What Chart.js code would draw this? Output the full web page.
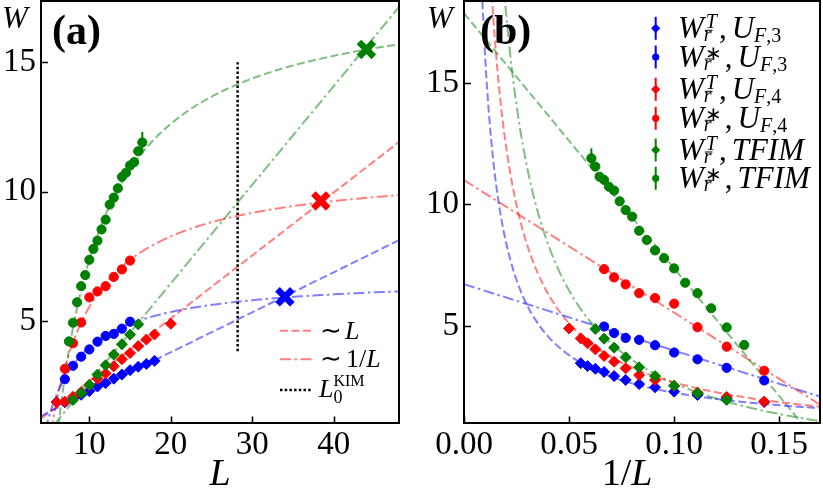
<!DOCTYPE html>
<html>
<head>
<meta charset="utf-8">
<script src="https://cdn.jsdelivr.net/npm/chart.js@4.4.1/dist/chart.umd.min.js"></script>
<style>
  html, body { margin: 0; padding: 0; background: #fff; }
  #wrap { position: relative; width: 823px; height: 494px; overflow: hidden; }
  #chartA { position: absolute; left: 0; top: 0; }
  #chartB { position: absolute; left: 411px; top: 0; }
</style>
</head>
<body>
<div id="wrap">
  <canvas id="chartA" width="411" height="494"></canvas>
  <canvas id="chartB" width="412" height="494"></canvas>
</div>
<script>
// ---- data ----
// W^T_rbar, U_F,3 (blue diamonds)
const L_uf3T = [6, 7, 8, 9, 10, 11, 12, 13, 14, 15, 16, 17, 18];
const W_uf3T = [1.88, 1.87, 2.00, 2.16, 2.30, 2.48, 2.61, 2.78, 2.94, 3.11, 3.24, 3.35, 3.47];
// W^*_rbar, U_F,3 (blue circles)
const L_uf3S = [7, 8, 9, 10, 11, 12, 13, 14, 15];
const W_uf3S = [2.76, 3.28, 3.63, 3.91, 4.21, 4.43, 4.51, 4.71, 4.98];
// W^T_rbar, U_F,4 (red diamonds)
const L_uf4T = [6, 7, 8, 9, 10, 11, 12, 13, 14, 15, 16, 17, 18, 20];
const W_uf4T = [1.87, 1.89, 2.08, 2.26, 2.54, 2.78, 2.98, 3.26, 3.53, 3.77, 4.04, 4.29, 4.49, 4.90];
// W^*_rbar, U_F,4 (red circles)
const L_uf4S = [7, 8, 9, 10, 11, 12, 13, 14, 15];
const W_uf4S = [3.16, 4.15, 4.95, 5.92, 6.15, 6.35, 6.71, 7.00, 7.34];
// W^T_rbar, TFIM (green diamonds)
const L_tfT = [8, 9, 10, 11, 12, 13, 14, 15, 16];
const W_tfT = [1.96, 2.23, 2.54, 2.94, 3.30, 3.71, 4.11, 4.48, 4.88];
// W^*_rbar, TFIM (green circles)
const L_tfS = [7.5, 8, 8.5, 9, 9.5, 10, 10.5, 11, 11.5, 12, 12.5, 13, 13.5, 14, 14.5, 15, 15.5, 16, 16.5];
const W_tfS = [4.22, 4.94, 5.73, 6.35, 6.78, 7.37, 7.79, 8.11, 8.54, 8.92, 9.50, 9.77, 10.13, 10.57, 10.73, 11.01, 11.14, 11.56, 11.90];
const E_tfS = [0, 0, 0, 0, 0, 0, 0, 0, 0, 0, 0, 0, 0, 0, 0, 0, 0, 0, 0.41];

// extrapolated crossings (blue, red, green)
const crossL = [34.0, 38.4, 44.0];
const crossW = [5.94, 9.64, 15.49];

// fit coefficients (blue, red, green): W = a + b*L  and  W = c + d/L
const fitLinA = [0.71, 0.25, -1.16];
const fitLinB = [0.1545, 0.243, 0.381];
const fitInvA = [6.72, 11.0, 17.87];
const fitInvB = [-27.3, -54.5, -105.0];

// L_0^KIM marker line
const L0kim = 28.2;
const L0kimW = [3.84, 15.0];

// axes
const xTicksA = [10, 20, 30, 40];
const xTicksB = [0, 0.05, 0.10, 0.15];
const yTicks = [5, 10, 15];
const minLPanelB = 7;

// ---- styling ----
const blueC = '#0000ff', redC = '#ff0000', greenC = '#008000';
const fitColors = ['rgba(0,0,255,0.5)', 'rgba(255,0,0,0.5)', 'rgba(0,128,0,0.5)'];
const DASH = [8, 3.5], DASHDOT = [11, 3.5, 2.5, 3.5], DOT = [2.5, 2.2];
const linDash = [DASH, DASH, DASHDOT];
const invDash = [DASHDOT, DASHDOT, DASH];
const SERIF = '"Liberation Serif", serif';

const series = [
    { L: L_uf3T, W: W_uf3T, color: blueC, style: 'rectRot', r: 5.5, order: 6 },
    { L: L_uf3S, W: W_uf3S, color: blueC, style: 'circle', r: 4.6, order: 5 },
    { L: L_uf4T, W: W_uf4T, color: redC, style: 'rectRot', r: 5.5, order: 4 },
    { L: L_uf4S, W: W_uf4S, color: redC, style: 'circle', r: 4.6, order: 3 },
    { L: L_tfT, W: W_tfT, color: greenC, style: 'rectRot', r: 5.5, order: 2 },
    { L: L_tfS, W: W_tfS, err: E_tfS, color: greenC, style: 'circle', r: 4.6, order: 1 }
];

const rangeA = { xmin: 4.07, xmax: 48.0, ymin: 1.07, ymax: 17.36 };
const rangeB = { xmin: 0.0, xmax: 0.1694, ymin: 1.01, ymax: 18.37 };

const markerSet = (s, panel) => {
    const pts = [];
    s.L.forEach((l, i) => {
        if (panel === 'b' && l < minLPanelB) return;
        pts.push({ x: panel === 'a' ? l : 1 / l, y: s.W[i], err: s.err ? s.err[i] : 0 });
    });
    return {
        data: pts, showLine: false, pointStyle: s.style, pointRadius: s.r,
        backgroundColor: s.color, borderColor: s.color, pointBorderWidth: 1,
        order: s.order, errColor: s.color
    };
};

const fitSet = (pts, color, dash) => ({
    data: pts, showLine: true, pointRadius: 0, borderColor: color,
    borderWidth: 2, borderDash: dash, order: 10, tension: 0
});

// fit curves: straight where the model is linear in the panel's x, sampled otherwise
const linFitA = (i) => [rangeA.xmin, rangeA.xmax].map(l => ({ x: l, y: fitLinA[i] + fitLinB[i] * l }));
const invFitA = (i) => {
    const pts = [];
    for (let l = rangeA.xmin; l <= rangeA.xmax + 1e-9; l += 0.2) pts.push({ x: l, y: fitInvA[i] + fitInvB[i] / l });
    return pts;
};
const linFitB = (i) => {
    const pts = [];
    for (let v = 0.002; v <= rangeB.xmax + 1e-9; v += 0.0008) pts.push({ x: v, y: fitLinA[i] + fitLinB[i] / v });
    return pts;
};
const invFitB = (i) => [rangeB.xmin, rangeB.xmax].map(v => ({ x: v, y: fitInvA[i] + fitInvB[i] * v }));

const datasetsA = series.map(s => markerSet(s, 'a'));
const datasetsB = series.map(s => markerSet(s, 'b'));
[0, 1, 2].forEach(i => {
    datasetsA.push(fitSet(linFitA(i), fitColors[i], linDash[i]));
    datasetsA.push(fitSet(invFitA(i), fitColors[i], invDash[i]));
    datasetsB.push(fitSet(linFitB(i), fitColors[i], linDash[i]));
    datasetsB.push(fitSet(invFitB(i), fitColors[i], invDash[i]));
});
datasetsA.push({
    data: crossL.map((l, i) => ({ x: l, y: crossW[i] })), showLine: false,
    pointStyle: 'crossRot', pointRadius: 10.5, pointBorderWidth: 6.5,
    borderColor: [blueC, redC, greenC], backgroundColor: [blueC, redC, greenC], order: 0
});
datasetsA.push({
    data: L0kimW.map(w => ({ x: L0kim, y: w })), showLine: true, pointRadius: 0,
    borderColor: '#000', borderWidth: 2.5, borderDash: DOT, order: 9
});

// ---- drawing helpers ----
const txt = (ctx, s, x, y, font, align) => {
    ctx.font = font;
    ctx.textAlign = align || 'left';
    ctx.fillText(s, x, y);
    return ctx.measureText(s).width;
};

const makeFrame = (deco) => ({
    id: 'frameAndTicks',
    afterDatasetsDraw(chart) {
        const { ctx } = chart;
        chart.data.datasets.forEach((ds, di) => {
            const meta = chart.getDatasetMeta(di);
            ds.data.forEach((p, i) => {
                if (!p.err) return;
                const px = meta.data[i].x;
                ctx.save();
                ctx.strokeStyle = ds.errColor;
                ctx.lineWidth = 2;
                ctx.beginPath();
                ctx.moveTo(px, chart.scales.y.getPixelForValue(p.y - p.err));
                ctx.lineTo(px, chart.scales.y.getPixelForValue(p.y + p.err));
                ctx.stroke();
                ctx.restore();
            });
        });
    },
    afterDraw(chart) {
        const { ctx, chartArea: a, scales } = chart;
        ctx.save();
        ctx.strokeStyle = '#000';
        ctx.lineWidth = 1.6;
        ctx.beginPath();
        scales.x.ticks.forEach(t => {
            const px = Math.round(scales.x.getPixelForValue(t.value)) + 0.5;
            ctx.moveTo(px, a.bottom); ctx.lineTo(px, a.bottom - 6.5);
        });
        scales.y.ticks.forEach(t => {
            const py = Math.round(scales.y.getPixelForValue(t.value)) + 0.5;
            ctx.moveTo(a.left, py); ctx.lineTo(a.left + 7, py);
        });
        ctx.stroke();
        ctx.lineWidth = 2;
        ctx.strokeRect(a.left, a.top, a.right - a.left, a.bottom - a.top);
        ctx.fillStyle = '#000';
        ctx.textBaseline = 'alphabetic';
        deco(ctx);
        ctx.restore();
    }
});

const decoA = (ctx) => {
    txt(ctx, 'W', 2, 28, 'italic 31px ' + SERIF);
    txt(ctx, '(a)', 52, 44, 'bold 42px ' + SERIF);
    txt(ctx, 'L', 220, 485, 'italic 38px ' + SERIF, 'center');
    // legend
    const rows = [330.7, 359.3, 390];
    const sampleDash = [DASH, DASHDOT, DOT];
    const sampleCol = [fitColors[1], fitColors[1], '#000'];
    rows.forEach((y, i) => {
        ctx.save();
        ctx.strokeStyle = sampleCol[i];
        ctx.lineWidth = i === 2 ? 2.5 : 2;
        ctx.setLineDash(sampleDash[i]);
        ctx.beginPath(); ctx.moveTo(280, y); ctx.lineTo(312, y); ctx.stroke();
        ctx.restore();
    });
    const f = '26px ' + SERIF, fi = 'italic 26px ' + SERIF;
    txt(ctx, '\u223C', 320, rows[0] + 8, f);
    txt(ctx, 'L', 345, rows[0] + 8, fi);
    txt(ctx, '\u223C', 320, rows[1] + 8, f);
    const x = 346 + txt(ctx, '1/', 346, rows[1] + 8, f);
    txt(ctx, 'L', x, rows[1] + 8, fi);
    const w = txt(ctx, 'L', 319, rows[2] + 7, fi);
    txt(ctx, '0', 319 + w, rows[2] + 13, '18px ' + SERIF);
    txt(ctx, 'KIM', 319 + w, rows[2] - 4, '16px ' + SERIF);
};

const legendB = [
    { color: blueC, marker: 'diamond', sup: 'T', model: 'U', sub: 'F', subTail: ',3' },
    { color: blueC, marker: 'circle', sup: '\u2217', model: 'U', sub: 'F', subTail: ',3' },
    { color: redC, marker: 'diamond', sup: 'T', model: 'U', sub: 'F', subTail: ',4' },
    { color: redC, marker: 'circle', sup: '\u2217', model: 'U', sub: 'F', subTail: ',4' },
    { color: greenC, marker: 'diamond', sup: 'T', model: 'TFIM', sub: '', subTail: '' },
    { color: greenC, marker: 'circle', sup: '\u2217', model: 'TFIM', sub: '', subTail: '' }
];

const decoB = (ctx) => {
    const off = 411;
    txt(ctx, 'W', 427 - off, 28, 'italic 31px ' + SERIF);
    txt(ctx, '(b)', 480 - off, 44, 'bold 42px ' + SERIF);
    ctx.font = '38px ' + SERIF;
    const w1 = ctx.measureText('1/').width;
    ctx.font = 'italic 38px ' + SERIF;
    const w2 = ctx.measureText('L').width;
    const x0 = 627 - off - (w1 + w2) / 2;
    txt(ctx, '1/', x0, 485, '38px ' + SERIF);
    txt(ctx, 'L', x0 + w1, 485, 'italic 38px ' + SERIF);

    const rows = [28.3, 57, 89.3, 118.3, 150, 178.3];
    const mx = 655.7 - off;
    const big = 'italic 31px ' + SERIF, small = 'italic 20px ' + SERIF, smallUp = '20px ' + SERIF;
    legendB.forEach((e, i) => {
        const cy = rows[i];
        ctx.save();
        ctx.strokeStyle = e.color; ctx.fillStyle = e.color; ctx.lineWidth = 2;
        ctx.beginPath(); ctx.moveTo(mx, cy - 11.5); ctx.lineTo(mx, cy + 11.5); ctx.stroke();
        ctx.beginPath();
        if (e.marker === 'diamond') {
            ctx.moveTo(mx, cy - 4.6); ctx.lineTo(mx + 4.6, cy); ctx.lineTo(mx, cy + 4.6); ctx.lineTo(mx - 4.6, cy);
            ctx.closePath();
        } else {
            ctx.arc(mx, cy, 3.6, 0, Math.PI * 2);
        }
        ctx.fill();
        ctx.restore();

        const base = cy + 10;
        let x = 678 - off;
        x += txt(ctx, 'W', x, base, big);
        const ws = e.sup === 'T' ? txt(ctx, 'T', x + 2, base - 10, small) : txt(ctx, e.sup, x + 1, base - 7, smallUp);
        const wr = txt(ctx, 'r', x, base + 3, small);
        ctx.save();
        ctx.lineWidth = 1;
        ctx.beginPath(); ctx.moveTo(x + 1, base - 8); ctx.lineTo(x + wr + 1, base - 8); ctx.stroke();
        ctx.restore();
        x += Math.max(ws + 2, wr) + 2;
        x += txt(ctx, ',', x, base, '31px ' + SERIF) + 5;
        x += txt(ctx, e.model, x, base, big);
        if (e.sub) {
            x += txt(ctx, e.sub, x, base + 4, small);
            txt(ctx, e.subTail, x, base + 4, smallUp);
        }
    });
};

const scaleOpts = (range, ticks, fmt, pad, fitSize, isX) => ({
    type: 'linear',
    min: isX ? range.xmin : range.ymin,
    max: isX ? range.xmax : range.ymax,
    grid: { display: false, drawTicks: false },
    border: { display: false },
    afterBuildTicks: (s) => { s.ticks = ticks.map(v => ({ value: v })); },
    afterFit: (s) => {
        if (isX) s.height = fitSize; else s.width = fitSize;
        s.paddingTop = 0; s.paddingBottom = 0; s.paddingLeft = 0; s.paddingRight = 0;
    },
    ticks: {
        autoSkip: false, maxRotation: 0, padding: pad, color: '#000',
        font: { family: SERIF, size: 33 },
        callback: fmt
    }
});

const baseOptions = (range, xt, xfmt, yWidth, rightPad) => ({
    responsive: false,
    animation: false,
    layout: { autoPadding: false, padding: { left: 0, right: rightPad, top: 1, bottom: 0 } },
    plugins: { legend: { display: false }, tooltip: { enabled: false } },
    scales: {
        x: scaleOpts(range, xt, xfmt, 3, 71, true),
        y: scaleOpts(range, yTicks, v => String(v), 5, yWidth, false)
    }
});

new Chart(document.getElementById('chartA'), {
    type: 'scatter',
    data: { datasets: datasetsA },
    options: baseOptions(rangeA, xTicksA, v => String(v), 41, 12),
    plugins: [makeFrame(decoA)]
});

new Chart(document.getElementById('chartB'), {
    type: 'scatter',
    data: { datasets: datasetsB },
    options: baseOptions(rangeB, xTicksB, v => v.toFixed(2), 53, 3),
    plugins: [makeFrame(decoB)]
});
</script>
</body>
</html>
